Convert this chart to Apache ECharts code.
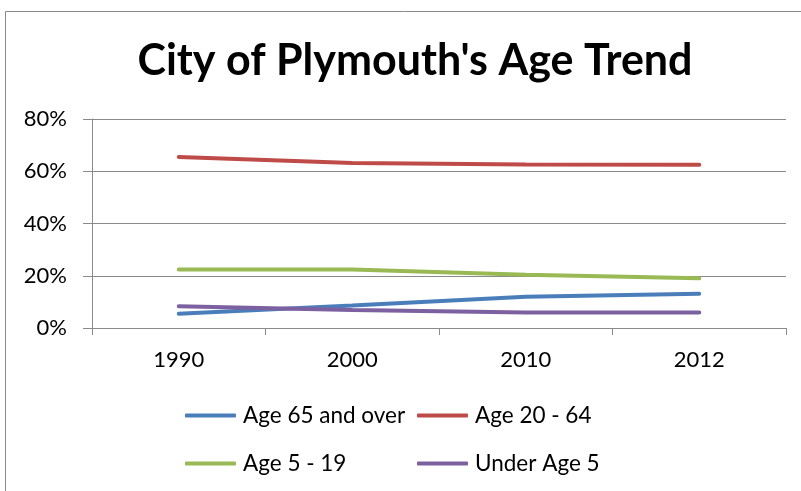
<!DOCTYPE html>
<html>
<head>
<meta charset="utf-8">
<style>
  html, body { margin: 0; padding: 0; background: #fff; }
  #line_charts { width: 801px; height: 491px; }
</style>
<script src="https://cdn.jsdelivr.net/npm/echarts@6/dist/echarts.min.js"></script>
</head>
<body>
<div id="line_charts"></div>
<script>
// chart data
const years = ["1990", "2000", "2010", "2012"];
const yTicks = [0, 20, 40, 60, 80];
const age65Over = [5.5, 8.6, 12.0, 13.1];
const age20to64 = [65.5, 63.2, 62.6, 62.5];
const age5to19 = [22.4, 22.4, 20.4, 19.0];
const under5 = [8.3, 6.9, 5.9, 5.9];

const seriesNames = ["Age 65 and over", "Age 20 - 64", "Age 5 - 19", "Under Age 5"];
const colors = ["#4A7EBB", "#BE4B48", "#98B954", "#7D60A0"];
const font = "Lato";

function lineSeries(name, data, color) {
  return {
    name: name,
    type: "line",
    data: data,
    symbol: "none",
    smooth: false,
    lineStyle: { color: color, width: 4, cap: "round" },
    itemStyle: { color: color },
    animation: false
  };
}

function legendItem(name, left, top) {
  return {
    data: [name],
    left: left,
    top: top,
    icon: "roundRect",
    itemWidth: 51,
    itemHeight: 4,
    padding: 0,
    textStyle: { fontFamily: font, fontSize: 22.5, color: "#000", padding: [0, 0, 0, 2] }
  };
}

let myChart = echarts.init(document.getElementById("line_charts"));
let option = {
  backgroundColor: "#fff",
  color: colors,
  title: {
    text: "City of Plymouth's Age Trend",
    left: 410,
    top: 35,
    textAlign: "center",
    textStyle: { fontFamily: font, fontSize: 43, fontWeight: "bold", color: "#000" }
  },
  graphic: [
    {
      type: "rect",
      shape: { x: 5.5, y: 11.5, width: 900, height: 600 },
      style: { fill: null, stroke: "#8a8a8a", lineWidth: 1 },
      silent: true
    }
  ],
  legend: [
    legendItem(seriesNames[0], 185, 404),
    legendItem(seriesNames[1], 417, 404),
    legendItem(seriesNames[2], 185, 452),
    legendItem(seriesNames[3], 417, 452)
  ],
  grid: { left: 92, right: 15, top: 119, bottom: 163, containLabel: false },
  xAxis: {
    type: "category",
    data: years,
    boundaryGap: true,
    axisLine: { lineStyle: { color: "#8a8a8a", width: 1 } },
    axisTick: { show: true, length: 7, alignWithLabel: false, lineStyle: { color: "#8a8a8a" } },
    axisLabel: { fontFamily: font, fontSize: 22, color: "#000", margin: 21 }
  },
  yAxis: {
    type: "value",
    min: yTicks[0],
    max: yTicks[yTicks.length - 1],
    interval: yTicks[1] - yTicks[0],
    axisLine: { show: true, lineStyle: { color: "#8a8a8a", width: 1 } },
    axisTick: { show: true, length: 9, lineStyle: { color: "#8a8a8a" } },
    splitLine: { show: true, lineStyle: { color: "#8a8a8a", width: 1 } },
    axisLabel: {
      fontFamily: font,
      fontSize: 22,
      color: "#000",
      margin: 25,
      formatter: function (v) { return v + "%"; }
    }
  },
  series: [
    lineSeries(seriesNames[0], age65Over, colors[0]),
    lineSeries(seriesNames[1], age20to64, colors[1]),
    lineSeries(seriesNames[2], age5to19, colors[2]),
    lineSeries(seriesNames[3], under5, colors[3])
  ]
};
myChart.setOption(option);
</script>
</body>
</html>
